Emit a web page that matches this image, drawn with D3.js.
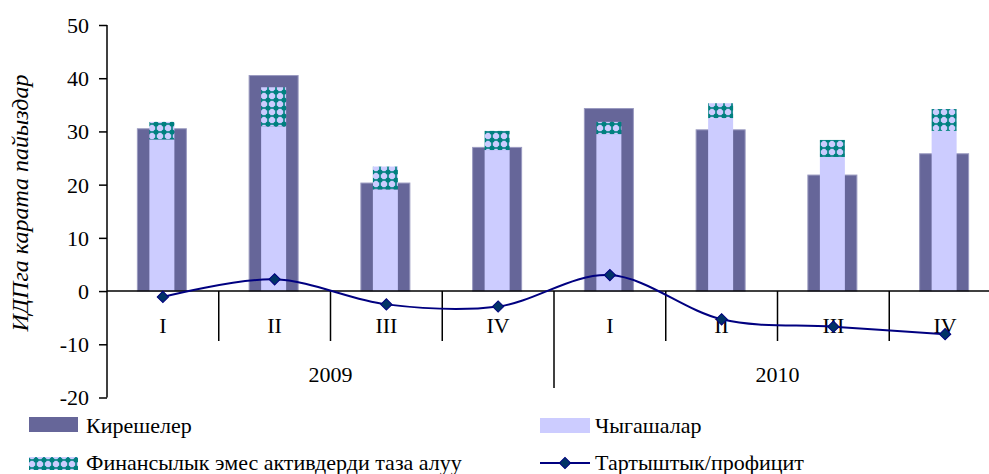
<!DOCTYPE html>
<html lang="ky">
    <head>
        <meta charset="utf-8">
        <title>Бюджет, ИДПга карата пайыздар</title>
        <script src="https://d3js.org/d3.v7.min.js"></script>
        <style>
            body { margin: 0; background: #fff; }
            svg text { font-family: "Liberation Serif", "Times New Roman", serif !important; fill: #000; }
        </style>
    </head>
    <body>
        <svg width="989" height="474"></svg>
        <script>
        // values, % of GDP
        var quarters = ["I", "II", "III", "IV", "I", "II", "III", "IV"];
        var years = ["2009", "2010"];
        var revenue = [30.5, 40.5, 20.3, 27.0, 34.3, 30.3, 21.8, 25.8];
        var expenditure = [28.5, 30.9, 19.1, 26.5, 29.5, 32.5, 25.2, 30.1];
        var nonFinAssets = [3.3, 7.4, 4.3, 3.6, 2.3, 2.8, 3.2, 4.1];
        var balance = [-1.1, 2.2, -2.5, -2.9, 3.0, -5.3, -6.7, -8.1];
        var yTicks = [-20, -10, 0, 10, 20, 30, 40, 50];
        var seriesNames = ["Кирешелер", "Чыгашалар", "Финансылык эмес активдерди таза алуу", "Тартыштык/профицит"];

        var svg = d3.select("svg");
        var serif = "'Liberation Serif', 'Times New Roman', serif";

        var idx = d3.range(quarters.length);
        var x = d3.scaleBand()
            .domain(idx)
            .range([107, 1001]);
        var y = d3.scaleLinear()
            .domain([-20, 50])
            .range([397.5, 25]);

        // dotted fill for the non-financial assets part
        var pat = svg.append("defs").append("pattern")
            .attr("id", "dots")
            .attr("patternUnits", "userSpaceOnUse")
            .attr("width", 8)
            .attr("height", 8);
        pat.append("rect").attr("width", 8).attr("height", 8).attr("fill", "#CCCCFF");
        pat.append("rect").attr("x", 0).attr("y", 3.2).attr("width", 8).attr("height", 1.6).attr("fill", "#008080");
        pat.append("rect").attr("x", 3.2).attr("y", 0).attr("width", 1.6).attr("height", 8).attr("fill", "#008080");
        pat.append("circle").attr("cx", 4).attr("cy", 4).attr("r", 2.6).attr("fill", "#008080");

        var outerW = 49, innerW = 25;
        var cx = function(i) { return x(i) + x.bandwidth() / 2 - 1; };

        svg.append("g").selectAll("rect")
            .data(idx)
          .enter().append("rect")
            .attr("x", function(i) { return cx(i) - outerW / 2; })
            .attr("y", function(i) { return y(revenue[i]); })
            .attr("width", outerW)
            .attr("height", function(i) { return y(0) - y(revenue[i]); })
            .attr("fill", "#666699")
            .attr("stroke", "#9a9ac0")
            .attr("stroke-width", 1);

        svg.append("g").selectAll("rect")
            .data(idx)
          .enter().append("rect")
            .attr("x", function(i) { return cx(i) - innerW / 2; })
            .attr("y", function(i) { return y(expenditure[i]); })
            .attr("width", innerW)
            .attr("height", function(i) { return y(0) - y(expenditure[i]); })
            .attr("fill", "#CCCCFF");

        svg.append("g").selectAll("rect")
            .data(idx)
          .enter().append("rect")
            .attr("x", function(i) { return cx(i) - innerW / 2; })
            .attr("y", function(i) { return y(expenditure[i] + nonFinAssets[i]); })
            .attr("width", innerW)
            .attr("height", function(i) { return y(expenditure[i]) - y(expenditure[i] + nonFinAssets[i]); })
            .attr("fill", "url(#dots)");

        // y axis
        var ya = svg.append("g")
            .attr("transform", "translate(107,0)")
            .attr("font-family", serif)
            .attr("font-size", 22)
            .call(d3.axisLeft(y).tickValues(yTicks).tickSize(8).tickPadding(10)
                .tickFormat(function(d) { return String(d); }));
        ya.select(".domain").attr("stroke", "#000").attr("stroke-width", 1.5)
            .attr("d", "M0," + y(50) + "V" + y(-20));
        ya.selectAll(".tick line").attr("stroke", "#000").attr("stroke-width", 1.5);
        ya.selectAll(".tick text")
            .style("font-family", serif)
            .style("font-size", "22px")
            .attr("dy", "0.34em");

        svg.append("text")
            .attr("transform", "translate(28," + 203 + ") rotate(-90)")
            .attr("text-anchor", "middle")
            .style("font-family", serif)
            .style("font-size", "24px")
            .style("font-style", "italic")
            .text("ИДПга карата пайыздар");

        // x axis at zero
        svg.append("line")
            .attr("x1", 107).attr("x2", 989)
            .attr("y1", y(0)).attr("y2", y(0))
            .attr("stroke", "#000").attr("stroke-width", 1.5);

        svg.append("g").selectAll("line")
            .data(d3.range(1, quarters.length))
          .enter().append("line")
            .attr("x1", function(i) { return x(i); })
            .attr("x2", function(i) { return x(i); })
            .attr("y1", y(0))
            .attr("y2", function(i) { return i === 4 ? 388 : 341; })
            .attr("stroke", "#000").attr("stroke-width", 1.5);

        svg.append("g").selectAll("text")
            .data(idx)
          .enter().append("text")
            .attr("x", function(i) { return x(i) + x.bandwidth() / 2; })
            .attr("y", 333)
            .attr("text-anchor", "middle")
            .style("font-size", "22px")
            .text(function(i) { return quarters[i]; });

        svg.append("g").selectAll("text")
            .data(years)
          .enter().append("text")
            .attr("x", function(d, j) { return (x(j * 4) + x(j * 4 + 3) + x.bandwidth()) / 2; })
            .attr("y", 382)
            .attr("text-anchor", "middle")
            .style("font-size", "22px")
            .text(function(d) { return d; });

        // balance line
        var line = d3.line()
            .x(function(i) { return x(i) + x.bandwidth() / 2; })
            .y(function(i) { return y(balance[i]); })
            .curve(d3.curveCatmullRom.alpha(0));

        svg.append("path")
            .datum(idx)
            .attr("fill", "none")
            .attr("stroke", "#000080")
            .attr("stroke-width", 2)
            .attr("d", line);

        var diamond = d3.symbol().type(d3.symbolSquare).size(64);
        svg.append("g").selectAll("path")
            .data(idx)
          .enter().append("path")
            .attr("transform", function(i) {
                return "translate(" + (x(i) + x.bandwidth() / 2) + "," + y(balance[i]) + ") rotate(45)";
            })
            .attr("d", diamond)
            .attr("fill", "#003366")
            .attr("stroke", "#000080")
            .attr("stroke-width", 1);

        // legend
        var lg = svg.append("g").style("font-size", "22px");
        lg.append("rect").attr("x", 29).attr("y", 417).attr("width", 49).attr("height", 15).attr("fill", "#666699");
        lg.append("text").attr("x", 86).attr("y", 433).text(seriesNames[0]);

        lg.append("rect").attr("x", 540).attr("y", 418).attr("width", 50).attr("height", 15).attr("fill", "#CCCCFF");
        lg.append("text").attr("x", 595).attr("y", 433).text(seriesNames[1]);

        lg.append("rect").attr("x", 29).attr("y", 457).attr("width", 49).attr("height", 13).attr("fill", "url(#dots)");
        lg.append("text").attr("x", 86).attr("y", 470).text(seriesNames[2]);

        lg.append("line").attr("x1", 540).attr("x2", 590).attr("y1", 463).attr("y2", 463)
            .attr("stroke", "#000080").attr("stroke-width", 2);
        lg.append("path").attr("transform", "translate(565,463) rotate(45)").attr("d", diamond)
            .attr("fill", "#003366").attr("stroke", "#000080");
        lg.append("text").attr("x", 595).attr("y", 470).text(seriesNames[3]);
        </script>
    </body>
</html>
